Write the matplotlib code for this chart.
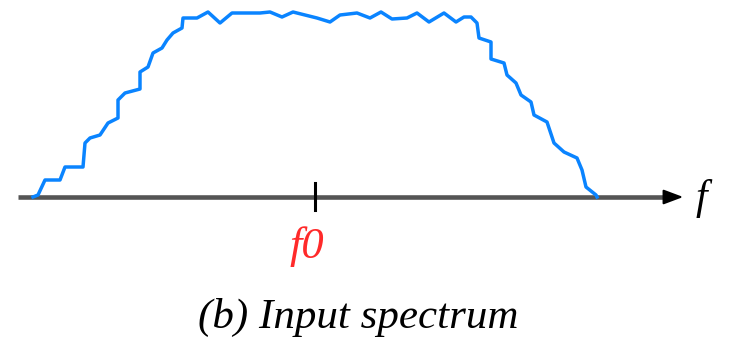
import numpy as np
import matplotlib.pyplot as plt

# spectrum (frequency position, amplitude above the axis)
freq = [33, 38, 45, 60, 65, 83, 85, 90, 100, 108, 118, 118, 125, 140, 140, 148, 153, 162,
        167, 173, 182, 183, 197, 208, 220, 232, 260, 270, 282, 293, 317, 330, 340, 357,
        370, 381, 392, 407, 417, 429, 444, 456, 464, 471, 477, 479, 491, 491, 504, 507,
        516, 521, 531, 534, 547, 554, 564, 577, 582, 586, 596, 597]
amp = [0, 2, 17, 17, 30, 30, 54, 59, 62, 74, 79, 97, 104, 108, 125, 130, 144, 149,
       157, 164, 169, 179, 179, 185, 174, 184, 184, 185, 180, 185, 179, 175, 182, 184,
       179, 185, 178, 179, 184, 175, 184, 175, 180, 180, 174, 159, 155, 138, 134, 122,
       114, 102, 95, 82, 75, 54, 45, 39, 27, 10, 2, 0]

f_start, f_end = 18, 664   # frequency axis extent
f0 = 315                   # centre frequency

plt.rcParams['font.family'] = ['Liberation Serif', 'DejaVu Serif']

fig = plt.figure(figsize=(7.34, 3.39), dpi=100)
ax = fig.add_axes([0, 0, 1, 1])
ax.set_xlim(0, 734)
ax.set_ylim(-142, 197)
ax.axis('off')

# frequency axis with arrow
ax.plot([f_start, f_end], [0, 0], color='#555555', lw=3.3, solid_capstyle='butt', zorder=1)
ax.annotate('', xy=(686, 0), xytext=(662, 0),
            arrowprops=dict(arrowstyle='-|>,head_length=1.2,head_width=0.45',
                            color='black', lw=1.5))
ax.text(696, -2, 'f', fontsize=30, style='italic', ha='left', va='center')

# tick at f0
ax.plot([f0, f0], [-13, 14], color='black', lw=2.2, zorder=3)
ax.text(f0 - 8, -50, 'f0', fontsize=32, style='italic', color='#ff2a2a', ha='center', va='center')

# spectrum
ax.plot(freq, amp, color='#0a84ff', lw=2.5, zorder=2)

ax.text(358, -120, '(b) Input spectrum', fontsize=31, style='italic', ha='center', va='center')

fig.savefig('out.png', dpi=100)
